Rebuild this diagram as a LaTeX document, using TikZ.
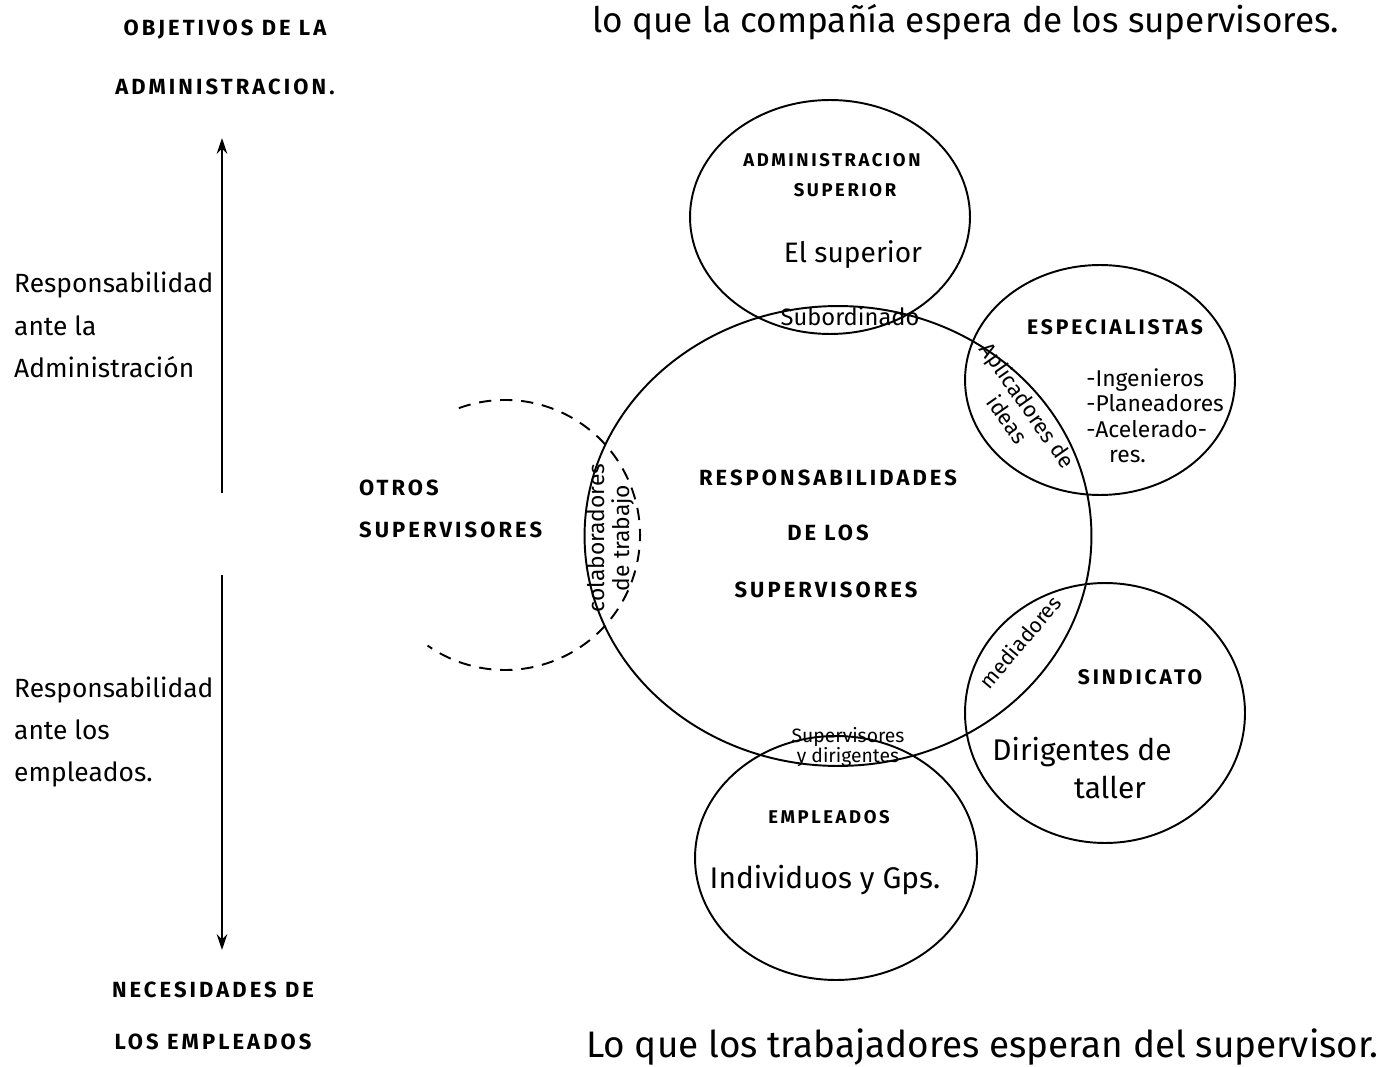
\documentclass[tikz,border=0pt]{standalone}
\usepackage{fontspec}
\setmainfont{Fira Sans}
\newfontfamily\capsfont[LetterSpace=14]{Fira Sans}
\usetikzlibrary{arrows.meta, shapes.geometric}

\begin{document}
\begin{tikzpicture}[x=0.02cm, y=-0.02cm,
  ring/.style={ellipse, draw, line width=1.1pt, inner sep=0pt},
  caps/.style={font=\capsfont\bfseries\fontsize{12.5}{14}\selectfont},
  small caps/.style={font=\capsfont\bfseries\fontsize{10.5}{12}\selectfont},
  hand/.style={font=\fontsize{15}{24}\selectfont},
  note/.style={font=\fontsize{11}{12}\selectfont, align=center, inner sep=0pt},
  axis/.style={line width=1.4pt}
]
  \useasboundingbox (0,0) rectangle (1396,1067);

  % left column
  \node[caps] (obj1) at (225,30) {OBJETIVOS DE LA};
  \node[caps] (obj2) at (225,87) {ADMINISTRACION.};
  \node[hand, anchor=west, align=left] (radm) at (8,325) {Responsabilidad\\ante la\\Administración};
  \node[hand, anchor=west, align=left] (remp) at (8,732) {Responsabilidad\\ante los\\empleados.};
  \node[caps] (nec1) at (213,990) {NECESIDADES DE};
  \node[caps] (nec2) at (213,1042) {LOS EMPLEADOS};

  \coordinate (up1) at (222,138);
  \coordinate (up2) at (222,493);
  \coordinate (dn1) at (222,575);
  \coordinate (dn2) at (222,950);
  \draw[axis, -{Stealth[length=9pt, width=6pt]}] (up2) -- (up1);
  \draw[axis, -{Stealth[length=9pt, width=6pt]}] (dn1) -- (dn2);

  % top and bottom lines
  \node[hand, font=\fontsize{20}{22}\selectfont, anchor=west] (expc) at (586,22) {lo que la compañía espera de los supervisores.};
  \node[hand, font=\fontsize{21}{23}\selectfont, anchor=west] (expt) at (580,1047) {Lo que los trabajadores esperan del supervisor.};

  % circles
  \node[ring, minimum width=10.14cm, minimum height=9.2cm] (resp) at (838,536) {};
  \node[ring, minimum width=5.6cm, minimum height=4.68cm] (adm) at (830,217) {};
  \node[ring, minimum width=5.4cm, minimum height=4.6cm] (esp) at (1100,380) {};
  \node[ring, minimum width=5.6cm, minimum height=5.2cm] (sind) at (1105,713) {};
  \node[ring, minimum width=5.64cm, minimum height=4.88cm] (empl) at (836,858) {};
  \draw[line width=1.1pt, dash pattern=on 7pt off 5pt] (505,535) ++(-110:135) arc[start angle=-110, end angle=125, radius=135];

  % centre
  \node[caps] (r1) at (828,478) {RESPONSABILIDADES};
  \node[caps] (r2) at (828,533) {DE LOS};
  \node[caps] (r3) at (826,590) {SUPERVISORES};

  % administracion superior
  \node[small caps] (adm1) at (832,160) {ADMINISTRACION};
  \node[small caps] (adm2) at (845,190) {SUPERIOR};
  \node[hand, font=\fontsize{16}{18}\selectfont] (adm3) at (853,255) {El superior};
  \node[note, font=\fontsize{13.5}{14}\selectfont] (sub) at (850,316) {Subordinado};

  % especialistas
  \node[small caps, font=\capsfont\bfseries\fontsize{12}{14}\selectfont] (esp1) at (1115,327) {ESPECIALISTAS};
  \node[note, align=left, anchor=north west, font=\fontsize{13}{14.5}\selectfont] (esp2) at (1086,368) {-Ingenieros\\-Planeadores\\-Acelerado-\\\quad res.};
  \node[note, rotate=-55, font=\fontsize{12.5}{14}\selectfont] (apl) at (1018,412) {Aplicadores de\\ideas};

  % sindicato
  \node[small caps, font=\capsfont\bfseries\fontsize{12}{14}\selectfont] (sin1) at (1140,677) {SINDICATO};
  \node[hand, font=\fontsize{17}{19}\selectfont] (sin2) at (1082,752) {Dirigentes de};
  \node[hand, font=\fontsize{17}{19}\selectfont] (sin3) at (1110,787) {taller};
  \node[note, rotate=50, font=\fontsize{12}{13}\selectfont] (med) at (1020,642) {mediadores};

  % empleados
  \node[note, font=\fontsize{11}{10}\selectfont] (sd) at (848,747) {Supervisores\\y dirigentes};
  \node[small caps] (emp1) at (829,817) {EMPLEADOS};
  \node[hand, font=\fontsize{17}{19}\selectfont] (emp2) at (825,880) {Individuos y Gps.};

  % otros supervisores
  \node[caps, anchor=west] (ot1) at (353,488) {OTROS};
  \node[caps, anchor=west] (ot2) at (353,530) {SUPERVISORES};
  \node[note, rotate=90, font=\fontsize{13}{14}\selectfont] (col) at (611,538) {colaboradores\\de trabajo};
\end{tikzpicture}
\end{document}
